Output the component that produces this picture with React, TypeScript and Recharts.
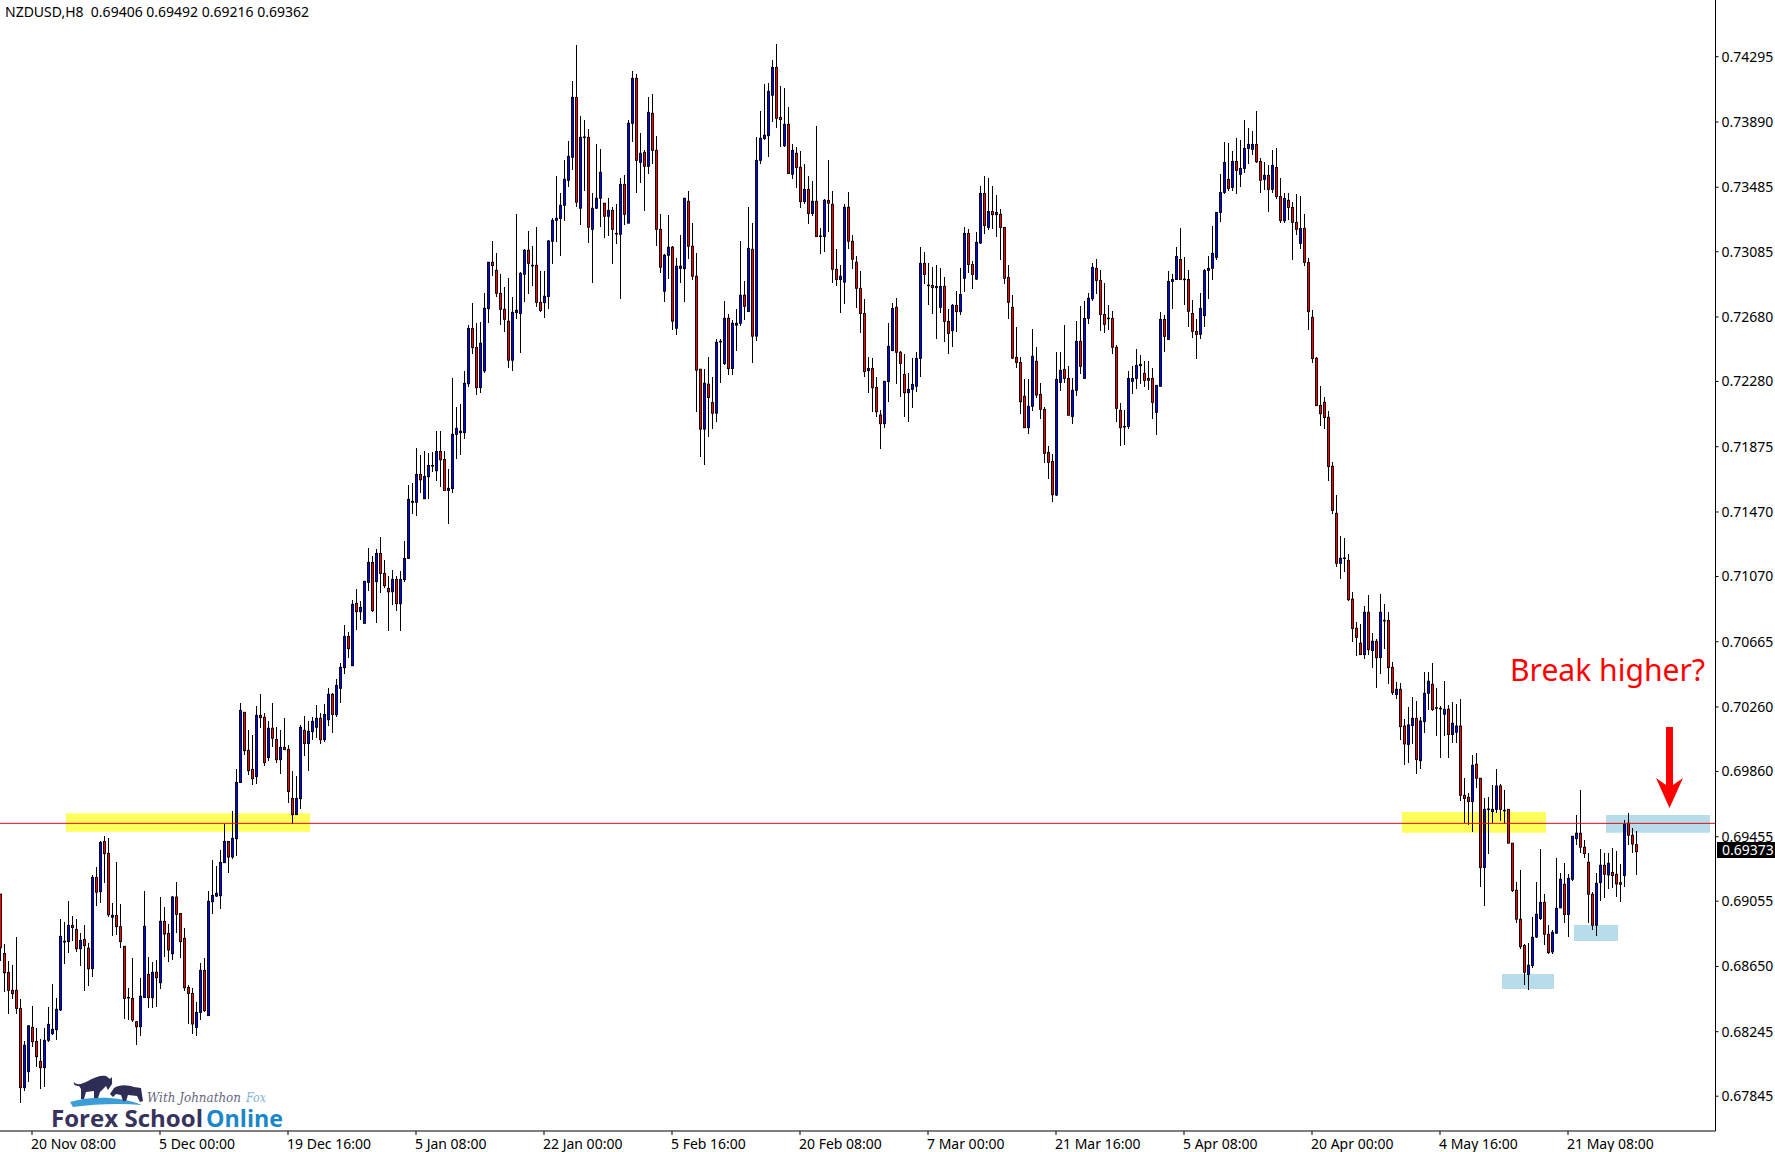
import React from 'react';
import { BarChart, Bar, XAxis, YAxis, ReferenceArea, ReferenceLine } from 'recharts';

// NZDUSD H8 candles, prices in points (69406 = 0.69406)
const opens = [
  69099,68731,68613,68502,68502,68390,67898,67997,68272,68185,
  68061,68022,68192,68233,68258,68380,68802,68804,68905,68880,
  68760,68818,68764,68636,69203,69114,69426,69352,68955,68967,
  68897,68775,68458,68452,68307,68276,68458,68601,68456,68615,
  68549,68930,68855,68729,69081,68979,68824,68520,68483,68272,
  68365,68626,68345,69052,69087,69089,69294,69426,69329,69443,
  69791,70227,69991,69873,69828,70208,70196,69946,70128,70059,
  69933,70010,69997,69693,69592,69691,70115,70033,70107,70134,
  70190,70057,70181,70339,70212,70376,70504,70698,70516,70903,
  70851,70779,71033,71157,71038,71213,71089,70996,70975,71052,
  70901,71050,71182,71530,71530,71703,71552,71689,71755,71726,
  71846,71796,71604,71615,71952,71962,71962,72266,72609,72491,
  72242,72345,72732,73020,72970,72827,72728,72654,72412,72707,
  72701,72945,73094,73001,73001,72771,72769,72807,73150,73280,
  73291,73373,73528,73671,74043,73355,73797,73795,73224,73355,
  73417,73386,73305,73342,73199,73193,73503,73262,73882,74161,
  73640,73702,73615,73944,73714,73224,72840,73063,73113,72610,
  72982,72980,73398,73119,72933,72356,71984,72263,72149,72083,
  72525,72391,72672,72360,72629,72641,72815,72714,73100,72561,
  73652,73787,73805,74056,74229,73919,73743,73876,73566,73696,
  73609,73396,73472,73322,73398,73183,73179,73404,73379,72976,
  72912,72896,73361,73150,73020,72858,72702,72347,72361,72243,
  72072,72018,72279,72471,72740,72461,72324,72210,72231,72250,
  72423,73013,72878,72876,72862,72740,72870,72653,72595,72752,
  72713,72920,73199,73006,72915,73139,73447,73236,73335,73315,
  73317,73236,72926,72740,72430,72398,72188,71993,72126,72405,
  72200,72107,71840,71784,71575,72274,72355,72299,72063,72225,
  72529,72299,72671,72793,72982,72907,72696,72673,72671,72492,
  72101,72001,72001,72281,72299,72378,72330,72299,72299,72088,
  72250,72665,72541,72901,72913,73037,72915,72913,72702,72591,
  72572,72688,72969,72982,73050,73329,73453,73534,73484,73645,
  73565,73602,73726,73720,73751,73645,73534,73559,73472,73608,
  73428,73277,73404,73360,73267,73137,73230,73019,72678,72424,
  72132,72151,72058,71754,71462,71152,71185,71170,70929,70749,
  70656,70585,70848,70610,70668,70566,70798,70798,70506,70337,
  70370,70142,70027,70145,70190,69927,70169,70345,70401,70256,
  70252,70215,70246,70089,70103,70142,69712,69700,69673,69905,
  69818,69264,69623,69611,69625,69770,69619,69625,69415,69123,
  68943,68780,68600,68656,68833,68947,69048,68850,68740,68856,
  69013,69160,68972,69191,69443,69477,69390,69297,69098,68906,
  69170,69278,69218,69233,69222,69170,69214,69539,69464,69406,
];
const closes = [
  68766,68611,68502,68481,68390,67898,68161,68281,68183,68090,
  68022,68192,68291,68260,68384,68837,68806,68905,68891,68760,
  68812,68779,68636,69203,69110,69420,69350,68971,68967,68897,
  68804,68452,68454,68318,68276,68465,68899,68456,68613,68580,
  68930,68851,68752,69081,68973,68804,68518,68483,68293,68365,
  68626,68376,69054,69091,69104,69296,69426,69329,69445,69792,
  70239,69989,69865,69815,70208,70194,69915,70128,70066,69933,
  70010,69995,69735,69592,69693,70134,70033,70109,70171,70190,
  70057,70214,70339,70214,70394,70506,70698,70622,70897,70851,
  70878,71040,71157,70858,71213,71089,71013,70975,71052,70901,
  71052,71182,71548,71536,71703,71670,71691,71759,71759,71846,
  71794,71604,71617,71952,71989,71972,72268,72609,72491,72241,
  72517,72734,73020,72999,72827,72728,72666,72412,72709,72722,
  72951,73094,73013,72997,72771,72720,72809,73152,73280,73293,
  73373,73535,73677,74043,73392,73795,73793,73237,73355,73417,
  73578,73305,73342,73224,73195,73503,73317,73882,74161,73652,
  73696,73615,73950,73714,73224,72989,73063,73113,72654,72995,
  72995,73417,73119,72933,72350,71984,72269,72180,72083,72523,
  72529,72672,72360,72641,72641,72815,72747,73106,72561,73652,
  73789,73808,74080,74229,73913,73905,73876,73570,73714,73607,
  73396,73472,73322,73398,73179,73179,73404,73386,72976,72912,
  72933,73361,73150,73038,72858,72702,72341,72361,72241,72092,
  72018,72281,72498,72733,72461,72392,72210,72231,72262,72423,
  73013,72944,72874,72862,72870,72870,72653,72578,72752,72713,
  72820,73199,73006,72944,73143,73447,73248,73335,73315,73329,
  73236,72920,72771,72425,72398,72154,71993,72126,72436,72196,
  72107,71834,71778,71577,72293,72349,72299,72070,72225,72529,
  72374,72671,72796,72988,72907,72696,72634,72669,72492,72113,
  71993,71997,72299,72299,72380,72386,72287,72287,72150,72256,
  72665,72560,72901,72913,73056,72913,72911,72715,72591,72572,
  72733,72969,72982,73075,73329,73453,73639,73478,73645,73590,
  73602,73726,73751,73751,73643,73528,73559,73472,73621,73428,
  73279,73416,73360,73267,73224,73230,73019,72713,72422,72130,
  72080,72056,71752,71479,71152,71183,71181,70926,70747,70691,
  70585,70848,70616,70668,70566,70848,70794,70504,70349,70370,
  70138,70031,70149,70190,69934,70173,70345,70420,70244,70252,
  70248,70246,70089,70159,70142,69712,69692,69673,69898,69818,
  69264,69625,69627,69625,69770,69625,69615,69415,69121,68943,
  68773,68614,68658,68831,68974,69048,68850,68736,68862,69011,
  69191,68972,69197,69458,69477,69390,69350,69098,68906,69166,
  69278,69222,69290,69214,69162,69160,69534,69464,69410,69362,
];
const highs = [
  69099,68787,68684,68657,68831,68448,68185,68287,68405,68266,
  68198,68266,68400,68539,68452,68944,68928,69054,68963,68944,
  68855,68907,68793,69217,69265,69426,69459,69445,69041,69296,
  69038,68775,68514,68702,68314,68578,69116,68709,68680,68690,
  69081,69017,68913,69087,69174,68979,68886,68535,68514,68431,
  68669,68700,69118,69310,69273,69372,69536,69426,69614,69873,
  70283,70231,70117,70086,70266,70341,70221,70173,70283,70134,
  70117,70190,70024,69863,69832,70148,70204,70173,70196,70272,
  70221,70276,70380,70345,70432,70531,70769,70725,70924,70992,
  70918,71040,71246,71197,71240,71313,71170,71073,71110,71073,
  71104,71290,71637,71648,71865,71823,71848,71836,71840,71972,
  71972,71846,71737,72299,72121,72140,72345,72630,72764,72642,
  72647,72827,73020,73152,73075,72947,72869,72920,72807,73319,
  72962,73102,73214,73121,73239,72964,72964,73158,73293,73555,
  73448,73654,73770,74145,74368,73927,73903,73845,73448,73752,
  73721,73386,73417,73361,73381,73541,73561,73903,74207,74186,
  73824,73717,74045,74064,73801,73317,73071,73313,73119,73044,
  73189,73417,73460,73262,73075,72356,72356,72434,72310,72542,
  72542,72780,72697,72662,72728,73152,72904,73365,73266,73795,
  73958,74126,74130,74275,74374,74114,74099,73981,73752,73737,
  73710,73628,73555,73524,73865,73231,73410,73654,73460,73102,
  73003,73381,73454,73189,73059,72963,72791,72430,72427,72310,
  72103,72281,72640,72767,72796,72469,72448,72330,72423,72461,
  73114,73081,73015,72988,73002,72982,72926,72729,72760,72841,
  72984,73238,73224,73027,73207,73492,73555,73542,73492,73437,
  73350,73236,73002,72816,72618,72430,72293,72293,72605,72494,
  72268,72119,71879,71828,72463,72463,72630,72376,72299,72655,
  72746,72777,72827,73013,73040,72971,72893,72754,72717,72506,
  72148,72103,72347,72378,72483,72444,72407,72407,72361,72256,
  72713,72692,72963,72949,73114,73232,73052,72971,72785,72667,
  72827,72975,73058,73244,73329,73567,73765,73757,73710,73790,
  73778,73902,73852,73834,73958,73666,73639,73621,73714,73726,
  73540,73447,73447,73391,73441,73428,73317,73044,72724,72430,
  72252,72184,72097,71781,71576,71322,71309,71210,70974,70790,
  70776,70887,70955,70718,70680,70962,70900,70850,70539,70417,
  70407,70186,70262,70324,70298,70196,70475,70475,70533,70380,
  70264,70420,70273,70293,70277,70310,69818,69725,69963,69973,
  69818,69694,69704,69776,69874,69781,69745,69625,69415,69177,
  69249,68790,68794,68960,69175,69379,69098,68908,68877,69321,
  69228,69290,69222,69458,69590,69745,69435,69352,69115,69228,
  69377,69352,69352,69383,69367,69286,69559,69601,69508,69492,
];
const lows = [
  68686,68494,68357,68450,68357,67805,67877,67933,68152,68028,
  67892,67904,68183,68225,68196,68374,68665,68735,68806,68742,
  68655,68498,68529,68587,69027,69046,69170,68959,68839,68843,
  68766,68324,68318,68307,68165,68219,68452,68390,68394,68398,
  68512,68711,68680,68688,68855,68704,68498,68291,68231,68221,
  68318,68367,68343,68975,69079,69006,69290,69232,69314,69337,
  69791,69962,69838,69778,69782,70128,69896,69927,70014,69911,
  69846,69995,69662,69536,69592,69627,69956,69865,70055,70066,
  70028,70045,70144,70101,70200,70287,70467,70566,70516,70738,
  70800,70779,70982,70851,70783,70969,71000,70734,70895,70858,
  70734,71038,71180,71459,71445,71590,71552,71552,71718,71662,
  71625,71604,71397,71590,71801,71823,71923,72245,72450,72196,
  72209,72335,72645,72935,72807,72633,72589,72366,72348,72670,
  72459,72776,72823,72873,72742,72714,72676,72732,73011,73146,
  73061,73278,73489,73592,73365,73253,73464,73142,72893,73348,
  73237,73173,73185,73011,73135,72794,73251,73262,73768,73452,
  73514,73340,73570,73628,73123,72951,72776,72914,72602,72571,
  72889,72776,73042,72912,72093,71814,71764,71934,71984,72029,
  72273,72383,72323,72323,72472,72625,72662,72714,72397,72534,
  73632,73779,73673,73892,73855,73737,73737,73566,73535,73483,
  73359,73384,73259,73309,73175,73073,73086,73210,72893,72875,
  72707,72761,73102,72976,72738,72583,72310,72206,72092,72061,
  71863,71993,72154,72471,72264,72185,72061,72030,72117,72216,
  72310,72884,72756,72700,72545,72707,72527,72452,72496,72585,
  72692,72837,72953,72855,72909,73133,73195,73219,73228,73178,
  73035,72887,72669,72421,72365,72080,71989,71956,72099,72179,
  72047,71772,71677,71534,71571,72223,72272,72070,72018,72192,
  72328,72299,72638,72777,72820,72595,72583,72601,72452,72030,
  71881,71888,71983,72204,72231,72262,72248,72225,72049,71950,
  72250,72465,72541,72727,72909,72907,72756,72620,72552,72421,
  72541,72620,72791,72911,73033,73269,73445,73464,73464,73445,
  73488,73575,73627,73683,73637,73451,73468,73333,73451,73414,
  73263,73263,73281,73033,73190,73100,72998,72599,72397,72130,
  72004,71987,71665,71460,71131,71057,71100,70920,70666,70579,
  70585,70560,70585,70505,70380,70467,70620,70405,70335,70310,
  70058,69903,69915,70031,69847,69874,70101,70242,70238,70082,
  69942,70082,69942,70035,70035,69677,69539,69528,69487,69760,
  69144,69028,69350,69543,69601,69553,69532,69415,69110,68922,
  68759,68538,68507,68643,68825,68939,68784,68726,68726,68856,
  69011,68918,68835,69183,69404,69352,69321,68918,68877,68840,
  69059,69073,69133,69135,69084,69053,69146,69404,69352,69216,
];

const EMPTY_SLOTS = 19; // blank bars to the right of the last candle
const priceTicks = [74295,73890,73485,73085,72680,72280,71875,71470,71070,70665,70260,69860,69455,69055,68650,68245,67845];
const dateTickIndex = [8,40,72,104,136,168,200,232,264,296,328,360,392];
const dateLabels = ['20 Nov 08:00','5 Dec 00:00','19 Dec 16:00','5 Jan 08:00','22 Jan 00:00','5 Feb 16:00','20 Feb 08:00','7 Mar 00:00','21 Mar 16:00','5 Apr 08:00','20 Apr 00:00','4 May 16:00','21 May 08:00'];

const supportLevel = 69538;
// [first candle, last candle, bottom price, top price]
const yellowZones = [[17,77,69486,69600],[351,386,69480,69609]];
const blueZones = [[402,427,69480,69590],[394,404,68808,68907],[376,388,68510,68603]];

const FONT = '"Noto Sans", sans-serif';

const data = Array.from({ length: opens.length + EMPTY_SLOTS }).map((_, i) => ({
  k: i,
  open: opens[i],
  close: closes[i],
  range: i < opens.length ? [lows[i], highs[i]] : null,
}));

// wick + body, scaled off the bar's own low/high range
function Candle(props: any) {
  const { x, y, width, height, payload } = props;
  if (!payload || !payload.range) return null;
  const [low, high] = payload.range;
  const cx = x + width / 2;
  const h = Math.abs(height);
  const perPoint = high > low ? h / (high - low) : 0;
  const yOf = (p: number) => y + (high - p) * perPoint;
  const top = yOf(Math.max(payload.open, payload.close));
  const bottom = yOf(Math.min(payload.open, payload.close));
  const up = payload.close > payload.open;
  return (
    <g>
      <line x1={cx} x2={cx} y1={y} y2={y + h} stroke="#000" strokeWidth={1} shapeRendering="crispEdges" />
      <rect x={cx - 1.05} width={2.1} y={top} height={Math.max(bottom - top, 0.6)} fill={up ? '#0000ff' : '#ff0000'} stroke="#000" strokeWidth={0.9} />
    </g>
  );
}

function DateTick(props: any) {
  const { x, y, payload } = props;
  const i = dateTickIndex.indexOf(payload.value);
  return (
    <text x={x - 1} y={y + 12} fontFamily={FONT} fontSize={14} fill="#000" textAnchor="start">
      {dateLabels[i]}
    </text>
  );
}

export default function App() {
  return (
    <div style={{ position: 'absolute', left: 0, top: 0, width: 1775, height: 1152, background: '#fff', overflow: 'hidden' }}>
      <BarChart
        width={1775}
        height={1152}
        data={data}
        barCategoryGap={0}
        margin={{ top: 0, right: 0, bottom: 0, left: -2 }}
      >
        <XAxis
          dataKey="k"
          ticks={dateTickIndex}
          interval={0}
          height={21}
          tickSize={4}
          padding={{ left: 0, right: 1.5 }}
          stroke="#000"
          tick={DateTick}
        />
        <YAxis
          orientation="right"
          width={59.5}
          domain={[67629, 74647]}
          allowDataOverflow
          ticks={priceTicks}
          interval={0}
          tickSize={3}
          tickMargin={3}
          stroke="#000"
          tick={{ fill: '#000', fontFamily: FONT, fontSize: 14 }}
          tickFormatter={(v: number) => (v / 100000).toFixed(5)}
        />
        {yellowZones.map((z, i) => (
          <ReferenceArea key={'y' + i} x1={z[0]} x2={z[1]} y1={z[2]} y2={z[3]} fill="#ffff5c" fillOpacity={1} stroke="none" />
        ))}
        {blueZones.map((z, i) => (
          <ReferenceArea key={'b' + i} x1={z[0]} x2={z[1]} y1={z[2]} y2={z[3]} fill="#b7dcea" fillOpacity={1} stroke="none" />
        ))}
        <ReferenceLine y={supportLevel} stroke="#dc0f1e" strokeWidth={1} />
        <Bar dataKey="range" barSize={3} shape={Candle} isAnimationActive={false} />
      </BarChart>

      <svg width={1775} height={1152} style={{ position: 'absolute', left: 0, top: 0, pointerEvents: 'none' }}>
        <text x={5} y={16.5} fontFamily={FONT} fontSize={14} fill="#000" xmlSpace="preserve">NZDUSD,H8  0.69406 0.69492 0.69216 0.69362</text>

        <rect x={1717} y={842} width={58} height={16} fill="#000" />
        <text x={1722} y={855} fontFamily={FONT} fontSize={14} fill="#fff">0.69373</text>

        <text x={1510} y={681} fontFamily={FONT} fontSize={31} fill="#ff0000" textLength={195} lengthAdjust="spacingAndGlyphs">Break higher?</text>
        <polygon points="1666,727 1673,727 1673,785 1683,778 1669.5,808 1656,778 1666,785" fill="#ff0000" />

        {/* logo */}
        <path d="M70,1102 C90,1096 120,1096 142,1105 C120,1103 95,1104 73,1107 Z" fill="#3c9ed6" />
        <path d="M74,1082 C77,1086 82,1084 88,1081 C95,1077 101,1075 106,1076 L110,1079 L112,1077 L112,1084 L108,1090 L106,1086 L100,1092 L98,1098 L94,1098 L94,1091 L86,1092 L84,1099 L81,1099 L81,1089 L79,1086 C76,1086 73,1085 74,1082 Z" fill="#2e2d55" />
        <path d="M110,1094 L114,1088 C120,1084 128,1085 134,1087 L141,1088 L143,1101 L140,1102 L137,1096 L128,1095 L126,1101 L123,1101 L121,1095 L116,1094 L113,1097 Z" fill="#2e2d55" />
        <text x={147} y={1102} fontFamily="'DejaVu Serif', serif" fontStyle="italic" fontSize={13} fill="#66667e" textLength={94} lengthAdjust="spacingAndGlyphs">With Johnathon</text>
        <text x={246} y={1102} fontFamily="'DejaVu Serif', serif" fontStyle="italic" fontSize={13} fill="#7fb6d8" textLength={20} lengthAdjust="spacingAndGlyphs">Fox</text>
        <text x={51} y={1127} fontFamily="'Open Sans', sans-serif" fontWeight={700} fontSize={23} fill="#37335c" textLength={152} lengthAdjust="spacingAndGlyphs">Forex School</text>
        <text x={206} y={1127} fontFamily="'Open Sans', sans-serif" fontWeight={700} fontSize={23} fill="#1a87c7" textLength={77} lengthAdjust="spacingAndGlyphs">Online</text>
      </svg>
    </div>
  );
}
